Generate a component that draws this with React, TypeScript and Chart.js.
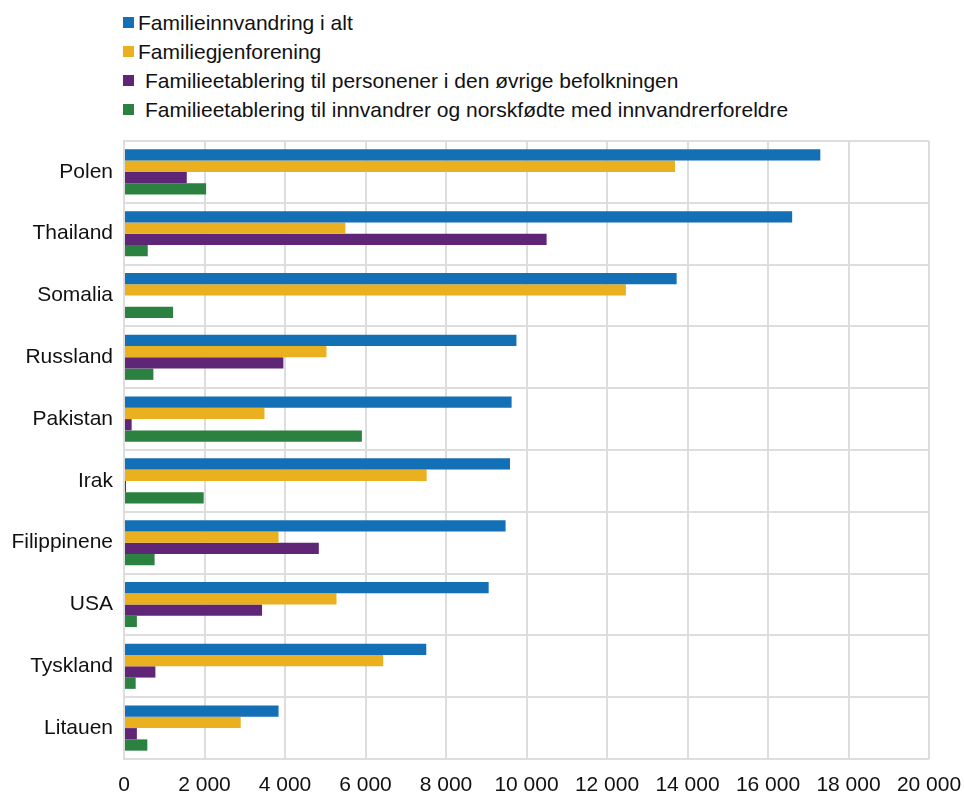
import React, { useEffect, useRef } from "react";
import { Chart, registerables } from "chart.js";

Chart.register(...registerables);

const categories = ["Polen", "Thailand", "Somalia", "Russland", "Pakistan", "Irak", "Filippinene", "USA", "Tyskland", "Litauen"];
const seriesNames = [
  "Familieinnvandring i alt",
  "Familiegjenforening",
  "Familieetablering til personener i den øvrige befolkningen",
  "Familieetablering til innvandrer og norskfødte med innvandrerforeldre",
];
const totalValues = [17300, 16600, 13730, 9750, 9630, 9590, 9480, 9060, 7510, 3840];
const reunionValues = [13690, 5500, 12470, 5030, 3490, 7520, 3840, 5280, 6440, 2900];
const establishOtherValues = [1560, 10500, 0, 3960, 190, 50, 4840, 3430, 780, 320];
const establishImmigrantValues = [2040, 590, 1220, 730, 5910, 1980, 760, 320, 290, 580];
const seriesColors = ["#136FB6", "#EBB020", "#5F2677", "#2A8140"];
const xTicks = [0, 2000, 4000, 6000, 8000, 10000, 12000, 14000, 16000, 18000, 20000];

const fmt = (v: number) => String(v).replace(/\B(?=(\d{3})+(?!\d))/g, " ");

export default function App() {
  const ref = useRef<HTMLCanvasElement | null>(null);
  useEffect(() => {
    if (!ref.current) return;
    const values = [totalValues, reunionValues, establishOtherValues, establishImmigrantValues];
    const chart = new Chart(ref.current, {
      type: "bar",
      data: {
        labels: categories,
        datasets: seriesNames.map((name, i) => ({
          label: name,
          data: values[i],
          backgroundColor: seriesColors[i],
          borderWidth: 0,
          categoryPercentage: 0.73,
          barPercentage: 1,
        })),
      },
      options: {
        indexAxis: "y",
        animation: false,
        responsive: false,
        maintainAspectRatio: false,
        layout: { padding: { top: 141, right: 35, left: 0, bottom: 0 } },
        plugins: { legend: { display: false }, tooltip: { enabled: false } },
        scales: {
          x: {
            min: 0,
            max: 20000,
            afterBuildTicks: (s: any) => {
              s.ticks = xTicks.map((v) => ({ value: v }));
            },
            afterFit: (s: any) => {
              s.height = 34;
              s.paddingLeft = 0;
              s.paddingRight = 0;
            },
            grid: { color: "#DDDDDD", lineWidth: 2, drawTicks: false },
            border: { display: false },
            ticks: {
              padding: 14,
              color: "#111",
              font: { family: "'Liberation Sans', Arial, sans-serif", size: 21 },
              maxRotation: 0,
              callback: (v: any) => fmt(Number(v)),
            },
          },
          y: {
            afterFit: (s: any) => {
              s.width = 124;
            },
            grid: { color: "#DDDDDD", lineWidth: 2, drawTicks: false, offset: true },
            border: { color: "#DDDDDD", width: 2 },
            ticks: {
              padding: 11,
              color: "#111",
              font: { family: "'Liberation Sans', Arial, sans-serif", size: 21 },
            },
          },
        },
      },
    } as any);
    return () => chart.destroy();
  }, []);

  const offsets = [4, 4, 11, 11];
  return (
    <div style={{ position: "absolute", left: 0, top: 0, width: 964, height: 793, background: "#fff" }}>
      <div style={{ position: "absolute", left: 123, top: 8, fontFamily: "'Liberation Sans', Arial, sans-serif", fontSize: 21, color: "#111" }}>
        {seriesNames.map((name, i) => (
          <div key={name} style={{ height: 29, lineHeight: "29px", whiteSpace: "nowrap", display: "flex", alignItems: "center" }}>
            <span style={{ display: "inline-block", width: 11, height: 11, background: seriesColors[i], marginRight: offsets[i] }} />
            <span>{name}</span>
          </div>
        ))}
      </div>
      <canvas ref={ref} width={964} height={793} style={{ position: "absolute", left: 0, top: 0 }} />
    </div>
  );
}
